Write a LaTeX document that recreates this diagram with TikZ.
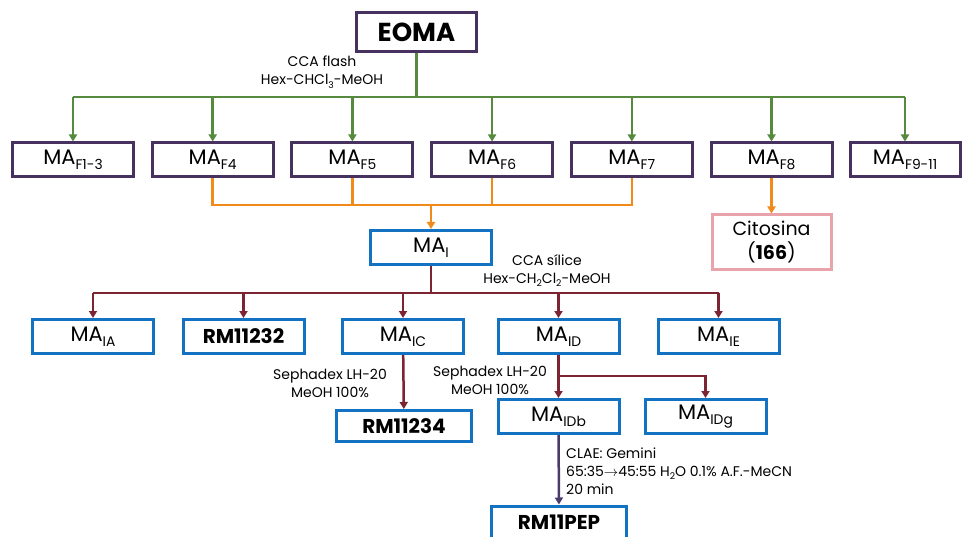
\documentclass[tikz,border=0pt]{standalone}
\usepackage{fontspec}
\usepackage{graphicx}
\setmainfont{Poppins}
\usetikzlibrary{arrows.meta,positioning,calc}

\definecolor{frpurple}{HTML}{47325F}
\definecolor{frgreen}{HTML}{568A3E}
\definecolor{frorange}{HTML}{F28A1A}
\definecolor{frblue}{HTML}{1372C2}
\definecolor{frred}{HTML}{7C2432}
\definecolor{frpink}{HTML}{E8A3AB}
\definecolor{frviolet}{HTML}{4B3B6B}

% subindice bajado y reducido
\newcommand{\lo}[1]{\raisebox{-0.45ex}{\scalebox{0.66}{#1}}}

\tikzset{
  fbox/.style={rectangle, draw=frpurple, line width=3pt, minimum width=121pt,
    minimum height=34pt, inner sep=0pt, font=\fontsize{21}{24}\selectfont},
  ibox/.style={fbox, draw=frblue},
  bbox/.style={ibox, font=\bfseries\fontsize{20}{24}\selectfont},
  cbox/.style={fbox, draw=frpink, align=center, font=\fontsize{19}{24}\selectfont},
  lbl/.style={align=center, inner sep=0pt, font=\fontsize{14}{18}\selectfont},
  gline/.style={draw=frgreen, line width=2.5pt},
  oline/.style={draw=frorange, line width=2.5pt},
  rline/.style={draw=frred, line width=2.5pt},
  vline/.style={draw=frviolet, line width=2.5pt},
  tip/.style={-{Triangle[length=7pt,width=8pt]}}
}

\begin{document}
\begin{tikzpicture}[x=1pt,y=1pt]
\useasboundingbox (0,0) rectangle (963,-537);

\node[fbox, minimum width=120pt, minimum height=39pt,
  font=\bfseries\fontsize{26}{28}\selectfont] (eoma) at (416.5,-32) {EOMA};

% fracciones de la columna flash
\node[fbox] (f13) at (73,-160) {MA\lo{F1-3}};
\node[fbox, right=15.7pt of f13] (f4) {MA\lo{F4}};
\node[fbox, right=15.7pt of f4] (f5) {MA\lo{F5}};
\node[fbox, right=15.7pt of f5] (f6) {MA\lo{F6}};
\node[fbox, right=15.7pt of f6] (f7) {MA\lo{F7}};
\node[fbox, right=15.7pt of f7] (f8) {MA\lo{F8}};
\node[fbox, right=15pt of f8, minimum width=110pt] (f911) {MA\lo{F9-11}};

\coordinate (gbus) at (0,-97);
\draw[gline] (eoma.south) -- (eoma.south |- gbus);
\draw[gline] (f13.north |- gbus) -- (f911.north |- gbus);
\foreach \n in {f13,f4,f5,f6,f7,f8,f911}
  \draw[gline, tip] (\n.north |- gbus) -- (\n.north);
\node[lbl] (flash) at (322,-72) {CCA flash\\Hex-CHCl\lo{3}-MeOH};

% reunion F4-F7
\node[ibox] (mai) at (431,-247.5) {MA\lo{I}};
\node[cbox, below=35pt of f8, minimum width=119pt, minimum height=54pt] (cito)
  {Citosina\\(\textbf{166})};

\coordinate (obus) at (0,-205);
\draw[oline] (f4.south) -- (f4.south |- obus) -- (f7.south |- obus) -- (f7.south);
\draw[oline] (f5.south) -- (f5.south |- obus);
\draw[oline] (f6.south) -- (f6.south |- obus);
\draw[oline, tip] (mai.north |- obus) -- (mai.north);
\draw[oline, tip] (f8) -- (cito);

% columna de silice
\node[lbl] (silice) at (547,-270.5) {CCA sílice\\Hex-CH\lo{2}Cl\lo{2}-MeOH};
\node[ibox] (ia) at (93,-336.5) {MA\lo{IA}};
\node[bbox] (rm32) at (243.5,-336.5) {RM11232};
\node[ibox] (ic) at (403,-336.5) {MA\lo{IC}};
\node[ibox] (id) at (558.5,-336.5) {MA\lo{ID}};
\node[ibox] (ie) at (718.5,-336.5) {MA\lo{IE}};

\coordinate (rbus) at (0,-293);
\draw[rline] (mai.south) -- (mai.south |- rbus);
\draw[rline] (ia.north |- rbus) -- (ie.north |- rbus);
\foreach \n in {ia,rm32,ic,id,ie}
  \draw[rline, tip] (\n.north |- rbus) -- (\n.north);

% sephadex
\node[bbox, minimum width=135pt, minimum height=31pt] (rm34) at (404,-426) {RM11234};
\draw[rline, tip] (ic) -- (rm34);
\node[lbl] (seph1) at (330,-383) {Sephadex LH-20\\MeOH 100\%};

\node[ibox] (idb) at (558.5,-416.5) {MA\lo{IDb}};
\node[ibox] (idg) at (705.5,-416.5) {MA\lo{IDg}};
\coordinate (dbus) at (0,-376);
\draw[rline, tip] (id) -- (idb);
\draw[rline, tip] (id.south |- dbus) -| (idg.north);
\node[lbl] (seph2) at (490,-380.5) {Sephadex LH-20\\MeOH 100\%};

% CLAE
\node[bbox, minimum width=135pt, minimum height=32pt] (pep) at (559,-522) {RM11PEP};
\draw[vline, tip] (idb) -- (pep);
\node[lbl, align=left, anchor=west] (clae) at (566,-471)
  {CLAE: Gemini\\65:35$\rightarrow$45:55 H\lo{2}O 0.1\% A.F.-MeCN\\20 min};
\end{tikzpicture}
\end{document}
